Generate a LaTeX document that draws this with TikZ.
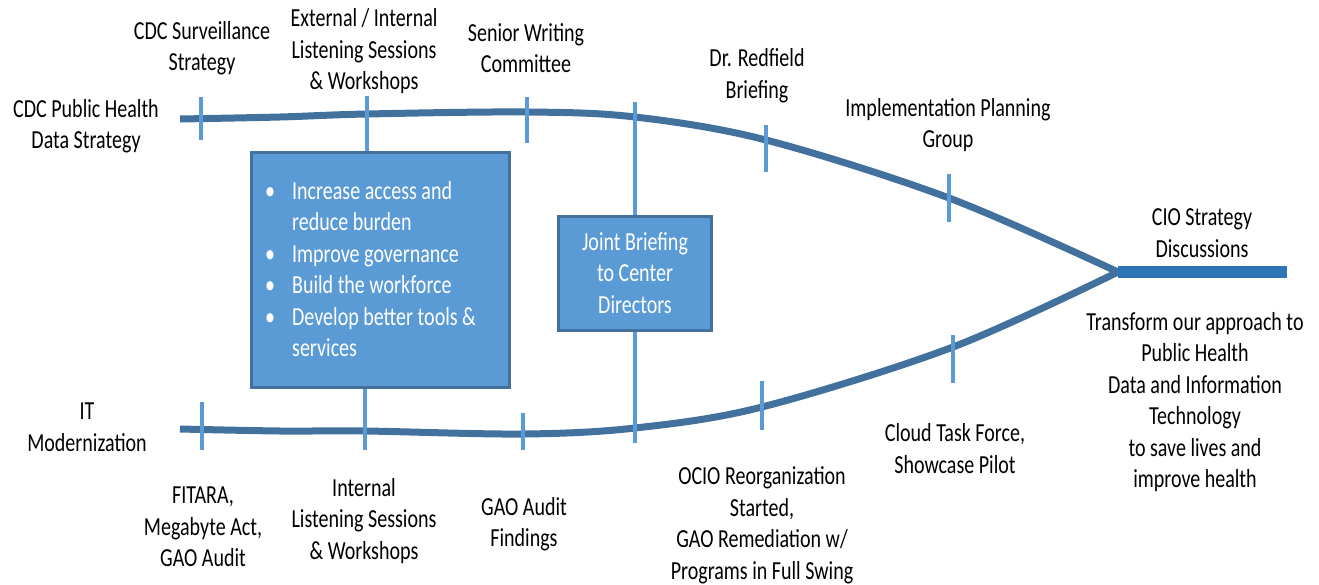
\documentclass[tikz,border=0pt]{standalone}
\usepackage{fontspec}
\setmainfont{Carlito}[FakeStretch=0.77]
\definecolor{trackblue}{HTML}{41719C}
\definecolor{tickblue}{HTML}{5B9BD5}
\definecolor{tailblue}{HTML}{2E75B6}
\tikzset{
  track/.style={draw=trackblue, line width=7pt},
  tail/.style={draw=tailblue, line width=12pt},
  tick/.style={draw=tickblue, line width=3.5pt},
  lbl/.style={align=center, inner sep=0pt, font=\fontsize{26}{31.5}\selectfont},
  card/.style={fill=tickblue, draw=trackblue, line width=3pt, text=white, inner sep=0pt, align=center, font=\fontsize{26}{31.5}\selectfont}
}
\begin{document}
\begin{tikzpicture}[x=1pt,y=-1pt]
\useasboundingbox (0,0) rectangle (1319,584);
% tracks
\coordinate (merge) at (1118,272);
\coordinate (tailend) at (1287,272);
\draw[track] plot[smooth, tension=0.55] coordinates {(180,119) (280,117) (367,114) (527,112) (635,117) (766,140) (949,198) (merge)};
\draw[track] plot[smooth, tension=0.55] coordinates {(180,429) (280,431) (365,431) (523,434) (635,428) (762,407) (953,347) (merge)};
\draw[tail](merge) -- (tailend);
% ticks
\foreach \x/\a/\b in {201/97/140, 367/96/160, 527/97/143, 635/102/443, 766/125/172, 949/174/222,
  202/402/450, 365/380/450, 523/413/450, 762/381/430, 953/335/383}
  \draw[tick] (\x,\a) -- (\x,\b);
% boxes
\node[card, minimum width=258pt, minimum height=235pt] (goals) at (380,269.5){};
\node[lbl, text=white, anchor=west] (goalstext) at (265,271.5){%
  \begin{tabular}{@{}l@{\hspace{17pt}}l@{}}
  \textbullet & Increase access and\\
   & reduce burden\\
  \textbullet & Improve governance\\
  \textbullet & Build the workforce\\
  \textbullet & Develop better tools \&\\
   & services
  \end{tabular}};
\node[card, minimum width=153pt, minimum height=114pt] (joint) at (635,273){Joint Briefing\\to Center\\Directors};
% labels
\node[lbl] (phds) at (86,126){CDC Public Health\\Data Strategy};
\node[lbl] (surv) at (202,48){CDC Surveillance\\Strategy};
\node[lbl] (extlisten) at (364,51.5){External / Internal\\Listening Sessions\\\& Workshops};
\node[lbl] (writing) at (526,48){Senior Writing\\Committee};
\node[lbl] (redfield) at (757,75.5){Dr. Redfield\\Briefing};
\node[lbl] (implplan) at (948,125){Implementation Planning\\Group};
\node[lbl] (cio) at (1202,233){CIO Strategy\\Discussions};
\node[lbl] (transform) at (1195,402){Transform our approach to\\Public Health\\Data and Information\\Technology\\to save lives and\\improve health};
\node[lbl] (itmod) at (87,427){IT\\Modernization};
\node[lbl] (fitara) at (203,527){FITARA,\\Megabyte Act,\\GAO Audit};
\node[lbl] (intlisten) at (364,521){Internal\\Listening Sessions\\\& Workshops};
\node[lbl] (gao) at (524,524){GAO Audit\\Findings};
\node[lbl] (ocio) at (762,525){OCIO Reorganization\\Started,\\GAO Remediation w/\\Programs in Full Swing};
\node[lbl] (cloud) at (955,448.5){Cloud Task Force,\\Showcase Pilot};
\end{tikzpicture}
\end{document}
